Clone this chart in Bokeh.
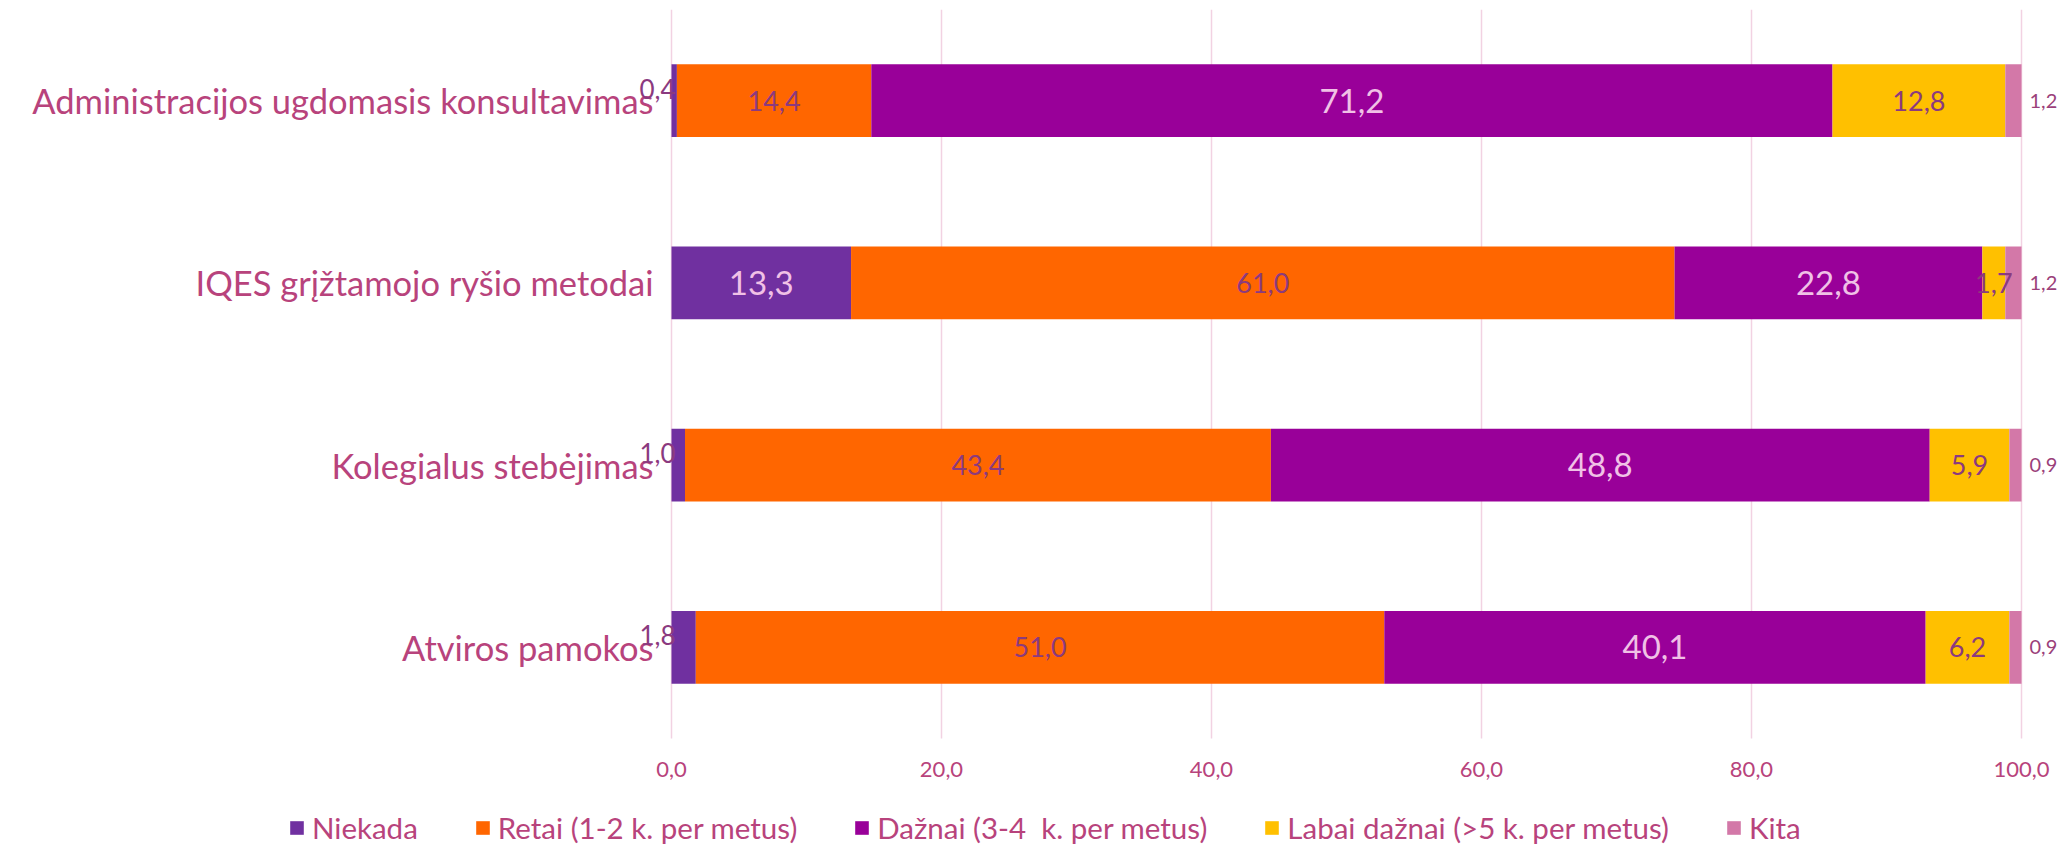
from bokeh.plotting import figure
from bokeh.models import (ColumnDataSource, LabelSet, FixedTicker, Legend, LegendItem, Range1d)
from bokeh.embed import file_html
from bokeh.resources import INLINE
from bokeh.core.properties import value

# ---- data ----
categories = ["Administracijos ugdomasis konsultavimas",
              "IQES grįžtamojo ryšio metodai",
              "Kolegialus stebėjimas",
              "Atviros pamokos"]
series_names = ["Niekada", "Retai (1-2 k. per metus)", "Dažnai (3-4  k. per metus)",
                "Labai dažnai (>5 k. per metus)", "Kita"]
niekada = [0.4, 13.3, 1.0, 1.8]
retai = [14.4, 61.0, 43.4, 51.0]
dazni = [71.2, 22.8, 48.8, 40.1]
labai = [12.8, 1.7, 5.9, 6.2]
kita = [1.2, 1.2, 0.9, 0.9]
x_ticks = [0, 20, 40, 60, 80, 100]
x_tick_labels = ["0,0", "20,0", "40,0", "60,0", "80,0", "100,0"]

# ---- style ----
colors = ["#7030A0", "#FF6600", "#990099", "#FFC000", "#D378A8"]
TEXT = "#B8437C"
DARK = "#8B3A7F"
OUT = "#9B3F7A"
LIGHT = "#F0C1E6"
FONT = "Lato"

n_cat = len(categories)
ypos = [n_cat - i for i in range(n_cat)]          # first category on top
keys = ["n", "r", "d", "l", "k"]
series = [niekada, retai, dazni, labai, kita]
src = ColumnDataSource(dict(cat=categories, y=ypos, n=niekada, r=retai, d=dazni, l=labai, k=kita))

# ---- layout geometry (pixels) ----
W, H = 2072, 845
x0_px, x100_px = 671, 2021              # where 0 and 100 fall
plot_top, plot_bottom = 9, 738          # plot area (bars region)
ppu_x = (x100_px - x0_px) / 100
ppu_y = (plot_bottom - plot_top) / n_cat
y_lo = 0.5 - (H - plot_bottom) / ppu_y
y_hi = n_cat + 0.5

p = figure(x_range=Range1d(-x0_px / ppu_x, (W - x0_px) / ppu_x),
           y_range=Range1d(y_lo, y_hi),
           width=W, height=H,
           min_border_left=0, min_border_right=0,
           min_border_top=plot_top, min_border_bottom=0,
           output_backend="svg", toolbar_location=None)

rs = p.hbar_stack(keys, y="y", height=0.4, color=colors, line_color=None, source=src)

# ---- labels ----
def fmt(v):
    return f"{v:.1f}".replace(".", ",")

light = dict(x=[], y=[], t=[])
dark = dict(x=[], y=[], t=[])
small_left = dict(x=[], y=[], t=[])
right_out = dict(x=[], y=[], t=[])
cum = [0.0] * n_cat
for si, vals in enumerate(series):
    for i, v in enumerate(vals):
        c = cum[i] + v / 2
        yy = ypos[i]
        if si == 0:
            if v < 5:
                small_left["x"].append(cum[i]); small_left["y"].append(yy); small_left["t"].append(fmt(v))
            else:
                light["x"].append(c); light["y"].append(yy); light["t"].append(fmt(v))
        elif si == 2:
            light["x"].append(c); light["y"].append(yy); light["t"].append(fmt(v))
        elif si in (1, 3):
            dark["x"].append(c); dark["y"].append(yy); dark["t"].append(fmt(v))
        else:
            right_out["x"].append(cum[i] + v); right_out["y"].append(yy); right_out["t"].append(fmt(v))
        cum[i] += v

p.add_layout(LabelSet(x="x", y="y", text="t", source=ColumnDataSource(light),
                      text_align="center", text_baseline="middle",
                      text_font=value(FONT), text_font_size="33px", text_color=LIGHT))
p.add_layout(LabelSet(x="x", y="y", text="t", source=ColumnDataSource(dark),
                      text_align="center", text_baseline="middle",
                      text_font=value(FONT), text_font_size="27px", text_color=DARK))
p.add_layout(LabelSet(x="x", y="y", text="t", source=ColumnDataSource(small_left),
                      text_align="right", text_baseline="middle", x_offset=4, y_offset=12,
                      text_font=value(FONT), text_font_size="26px", text_color=DARK))
p.add_layout(LabelSet(x="x", y="y", text="t", source=ColumnDataSource(right_out),
                      text_align="left", text_baseline="middle", x_offset=8, y_offset=0,
                      text_font=value(FONT), text_font_size="20px", text_color=OUT))

# ---- axes / grid ----
p.xaxis.fixed_location = 0.5
p.xaxis.ticker = FixedTicker(ticks=x_ticks)
p.xaxis.major_label_overrides = {t: l for t, l in zip(x_ticks, x_tick_labels)}
p.xaxis.major_label_standoff = 23
p.xaxis.major_label_text_font_size = "22px"

p.yaxis.fixed_location = 0
p.yaxis.ticker = FixedTicker(ticks=ypos)
p.yaxis.major_label_overrides = {y: c for y, c in zip(ypos, categories)}
p.yaxis.major_label_standoff = 18
p.yaxis.major_label_text_font_size = "34.5px"

p.axis.axis_line_color = None
p.axis.major_tick_line_color = None
p.axis.minor_tick_line_color = None
p.axis.major_tick_out = 0
p.axis.major_tick_in = 0
p.axis.major_label_text_font = FONT
p.axis.major_label_text_color = TEXT

p.xgrid.ticker = FixedTicker(ticks=x_ticks)
p.xgrid.grid_line_color = "#F2D2E2"
p.xgrid.grid_line_width = 1.5
try:
    p.xgrid.cross_bounds = (0.5, y_hi)
except Exception:
    pass
p.ygrid.grid_line_color = None
p.outline_line_color = None

legend = Legend(items=[LegendItem(label=nm, renderers=[r]) for nm, r in zip(series_names, rs)],
                orientation="horizontal", location=(288, 0), spacing=56,
                glyph_width=17, glyph_height=17, label_standoff=7, padding=0, margin=0,
                border_line_color=None, background_fill_alpha=0,
                label_text_font=FONT, label_text_font_size="29.5px", label_text_color=TEXT)
p.add_layout(legend, "center")

open("out.html", "w").write(file_html(p, INLINE))
